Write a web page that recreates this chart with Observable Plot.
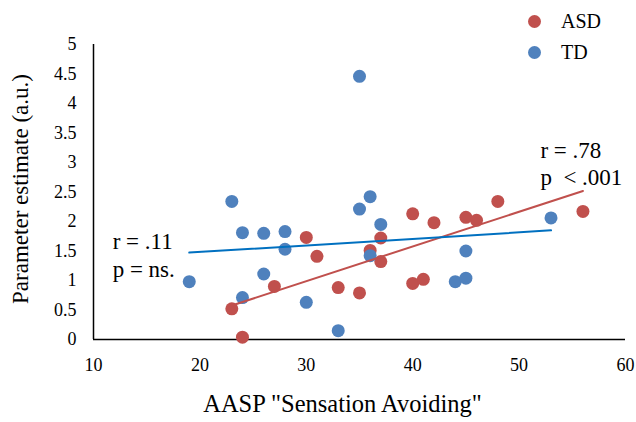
<!DOCTYPE html>
<html><head><meta charset="utf-8">
<script src="https://cdn.jsdelivr.net/npm/d3@7"></script>
<script src="https://cdn.jsdelivr.net/npm/@observablehq/plot@0.6"></script>
<style>
html,body{margin:0;padding:0;background:#fff;}
#wrap{position:relative;width:636px;height:422px;font-family:'Liberation Serif','Times New Roman',serif;}
.ldot{position:absolute;width:13px;height:13px;border-radius:50%;}
.ltxt{position:absolute;font-size:20px;line-height:20px;color:#000;white-space:nowrap;}
</style></head><body><div id="wrap"></div>
<script>
// ---- data ----
const groups = ["ASD", "TD"];
const dotColors = ["#C0504D", "#4F81BD"];
const lineColors = ["#C0504D", "#0070C0"];

const asdX = [23, 24, 27, 30, 31, 33, 35, 36, 37, 37, 40, 40, 41, 42, 45, 46, 48, 56];
const asdY = [0.52, 0.04, 0.90, 1.73, 1.41, 0.88, 0.79, 1.51, 1.72, 1.32, 2.13, 0.95, 1.02, 1.98, 2.07, 2.02, 2.34, 2.17];

const tdX = [19, 23, 24, 24, 26, 26, 28, 28, 30, 33, 35, 35, 36, 36, 37, 44, 45, 45, 53];
const tdY = [0.98, 2.34, 1.81, 0.71, 1.80, 1.11, 1.83, 1.53, 0.63, 0.15, 4.46, 2.21, 2.42, 1.42, 1.95, 0.98, 1.50, 1.04, 2.06];

const xTicks = [10, 20, 30, 40, 50, 60];
const yTicks = [0, 0.5, 1, 1.5, 2, 2.5, 3, 3.5, 4, 4.5, 5];

const annoText = ["r = .11", "p = ns.", "r = .78", "p\u00a0 < .001"];
const annoX = [11.8, 11.8, 52.0, 52.0];
const annoY = [1.66, 1.19, 3.20, 2.75];

const xLabel = 'AASP "Sensation Avoiding"';
const yLabel = "Parameter estimate (a.u.)";

// ---- build ----
const FONT = "Liberation Serif";
const asd = asdX.map((x, i) => ({x, y: asdY[i]}));
const td = tdX.map((x, i) => ({x, y: tdY[i]}));
const anno = annoText.map((t, i) => ({text: t, x: annoX[i], y: annoY[i]}));

const chart = Plot.plot({
  width: 636, height: 422,
  marginLeft: 93, marginRight: 11, marginTop: 44, marginBottom: 83,
  style: {fontSize: "18px", color: "#000", background: "#fff", overflow: "visible"},
  x: {domain: [xTicks[0], xTicks[xTicks.length - 1]], label: null},
  y: {domain: [yTicks[0], yTicks[yTicks.length - 1]], label: null},
  marks: [
    Plot.axisX({ticks: xTicks, tickSize: 0, tickPadding: 19, label: null, fontSize: 18, fill: "#000"}),
    Plot.axisY({ticks: yTicks, tickSize: 0, tickPadding: 17, label: null, tickFormat: d => String(d), fontSize: 18, fill: "#000"}),
    Plot.ruleX([xTicks[0]], {stroke: "#000", strokeWidth: 1.5}),
    Plot.ruleY([yTicks[0]], {stroke: "#000", strokeWidth: 1.5}),
    Plot.dot(asd, {x: "x", y: "y", r: 6.5, fill: dotColors[0], stroke: "none"}),
    Plot.dot(td, {x: "x", y: "y", r: 6.5, fill: dotColors[1], stroke: "none"}),
    Plot.linearRegressionY(asd, {x: "x", y: "y", stroke: lineColors[0], strokeWidth: 2, ci: 0}),
    Plot.linearRegressionY(td, {x: "x", y: "y", stroke: lineColors[1], strokeWidth: 2, ci: 0}),
    Plot.text(anno, {x: "x", y: "y", text: "text", textAnchor: "start", fontSize: 23, fill: "#000"}),
    Plot.text([xLabel], {frameAnchor: "bottom", textAnchor: "middle", dx: -17, dy: 72, fontSize: 24.5, fill: "#000"}),
    Plot.text([yLabel], {frameAnchor: "left", textAnchor: "middle", rotate: -90, dx: -73, dy: -3, fontSize: 23, fill: "#000"})
  ]
});
const wrap = document.getElementById("wrap");
wrap.appendChild(chart);
chart.setAttribute("font-family", FONT);
chart.style.fontFamily = FONT;
chart.querySelectorAll("text, g").forEach(el => { el.style.fontFamily = FONT; });

// legend
const legY = [21, 52];
groups.forEach((g, i) => {
  const d = document.createElement("div");
  d.className = "ldot";
  d.style.left = (534 - 6.5) + "px";
  d.style.top = (legY[i] - 6.5) + "px";
  d.style.background = dotColors[i];
  wrap.appendChild(d);
  const t = document.createElement("div");
  t.className = "ltxt";
  t.style.left = "561px";
  t.style.top = (legY[i] - 10) + "px";
  t.textContent = g;
  wrap.appendChild(t);
});
</script></body></html>
